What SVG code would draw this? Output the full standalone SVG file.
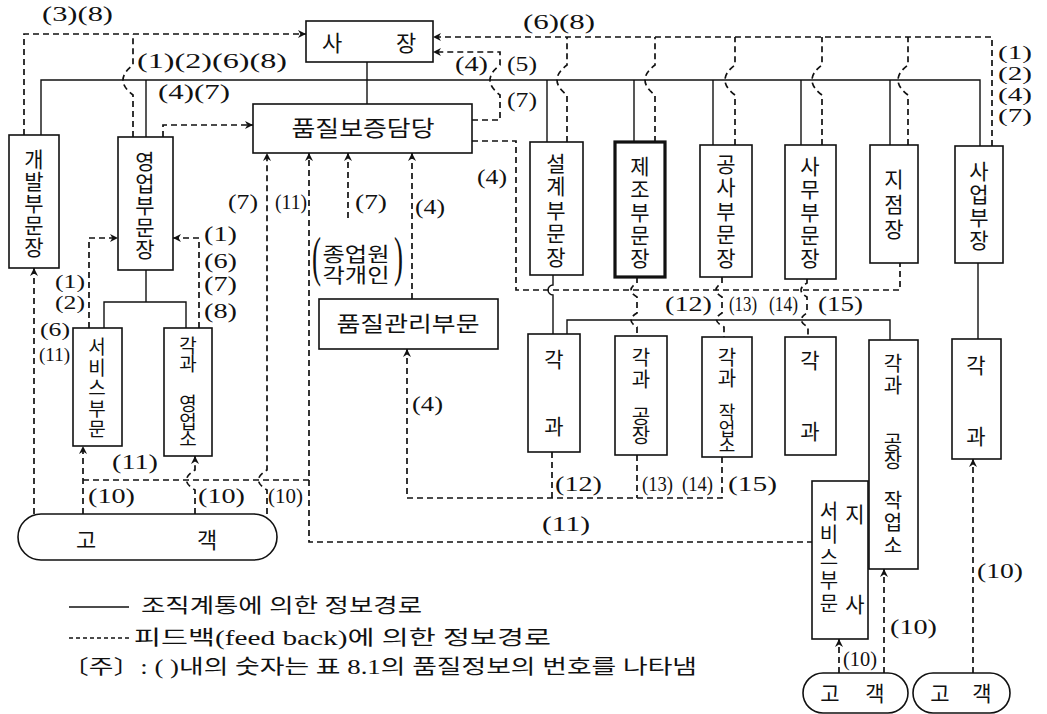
<svg xmlns="http://www.w3.org/2000/svg" width="1047" height="714" viewBox="0 0 1047 714">
<defs>
<style>
.box{fill:#fff;stroke:#111;stroke-width:1.6}
.thick{fill:#fff;stroke:#111;stroke-width:3.2}
.sol{fill:none;stroke:#111;stroke-width:1.4}
.dash{fill:none;stroke:#111;stroke-width:1.7;stroke-dasharray:6 4}
.arr{marker-end:url(#ah)}
.lbl{font-family:"Liberation Serif","Noto Sans CJK KR",serif;font-size:20px;fill:#111}
.sm{font-size:18px}
.ko{font-family:"Noto Sans CJK KR",sans-serif;font-size:22px;fill:#111;text-anchor:middle}
.ks{font-family:"Noto Sans CJK KR",sans-serif;font-size:20px;fill:#111;text-anchor:middle}
.vt{font-family:"Noto Sans CJK KR",sans-serif;font-size:21px;fill:#111;text-anchor:middle;writing-mode:vertical-rl}
.leg{font-family:"Liberation Serif","Noto Sans CJK KR",serif;font-size:20px;fill:#111}
</style>
<marker id="ah" viewBox="0 0 10 10" refX="10" refY="5" markerWidth="10" markerHeight="8" markerUnits="userSpaceOnUse" orient="auto">
<path d="M0,0 L10,5 L0,10 L3,5 Z" fill="#111"/>
</marker>
</defs>
<rect x="0" y="0" width="1047" height="714" fill="#fff"/>

<g id="connectors">
<g id="solid-lines">
<path class="sol" d="M367,62 V104"/>
<path class="sol" d="M41,135 V80 H980 V146"/>
<path class="sol" d="M146,80 V137"/>
<path class="sol" d="M547,80 V142"/>
<path class="sol" d="M634,80 V142"/>
<path class="sol" d="M713,80 V145"/>
<path class="sol" d="M801,80 V145"/>
<path class="sol" d="M890,80 V145"/>
<path class="sol" d="M146,270 V302"/>
<path class="sol" d="M104,328 V302 H186 V328"/>
<path class="sol" d="M553,275 V285 A5,5 0 0 0 553,295 V334"/>
<path class="sol" d="M567,334 V320 H890 V340"/>
<path class="sol" d="M978,263 V339"/>
</g>
<g id="feedback-lines">
<path class="dash arr" d="M24,135 V34 H306"/>
<path class="dash" d="M133,137 V95 Q113,80 133,65 V34"/>
<path class="dash arr" d="M163,137 V125 H253"/>
<path class="dash arr" d="M472,120 H500 V95 Q480,80 500,65 V52 H433"/>
<path class="dash arr" d="M992,146 V37 H433"/>
<path class="dash" d="M567,142 V95 Q547,80 567,65 V37"/>
<path class="dash" d="M655,142 V95 Q635,80 655,65 V37"/>
<path class="dash" d="M735,145 V95 Q715,80 735,65 V37"/>
<path class="dash" d="M822,145 V95 Q802,80 822,65 V37"/>
<path class="dash" d="M908,145 V95 Q888,80 908,65 V37"/>
<path class="dash" d="M472,141 H516 V290 H900 V263"/>
<path class="dash" d="M637,277 V283 Q625,290 637,297 V313 Q625,320 637,327 V336"/>
<path class="dash" d="M722,277 V283 Q710,290 722,297 V313 Q710,320 724,327 V337"/>
<path class="dash" d="M807,279 V283 Q795,290 807,297 V313 Q795,320 808,327 V337"/>
<path class="dash arr" d="M267,514 V490 Q250,480 267,470 V153"/>
<path class="dash arr" d="M813,542 H309 V153"/>
<path class="dash" d="M309,480 H83"/>
<path class="dash arr" d="M83,514 V446"/>
<path class="dash arr" d="M348,218 V153"/>
<path class="dash arr" d="M412,299 V153"/>
<path class="dash arr" d="M722,457 V498 H407 V349"/>
<path class="dash" d="M552,452 V498"/>
<path class="dash" d="M637,455 V498"/>
<path class="dash arr" d="M89,328 V238 H118"/>
<path class="dash arr" d="M199,328 V238 H173"/>
<path class="dash arr" d="M34,514 V268"/>
<path class="dash arr" d="M195,514 V490 Q178,480 195,470 V456"/>
<path class="dash arr" d="M839,673 V639"/>
<path class="dash arr" d="M884,673 V569"/>
<path class="dash arr" d="M973,673 V459"/>
</g>
<g id="connector-labels">
<text class="lbl" x="42" y="21" textLength="71" lengthAdjust="spacingAndGlyphs">(3)(8)</text>
<text class="lbl" x="137" y="68" textLength="150" lengthAdjust="spacingAndGlyphs">(1)(2)(6)(8)</text>
<text class="lbl" x="158" y="99" textLength="72" lengthAdjust="spacingAndGlyphs">(4)(7)</text>
<text class="lbl" x="523" y="29" textLength="72" lengthAdjust="spacingAndGlyphs">(6)(8)</text>
<text class="lbl" x="455" y="71" textLength="33" lengthAdjust="spacingAndGlyphs">(4)</text>
<text class="lbl" x="507" y="71" textLength="30" lengthAdjust="spacingAndGlyphs">(5)</text>
<text class="lbl" x="507" y="107" textLength="30" lengthAdjust="spacingAndGlyphs">(7)</text>
<text class="lbl sm" x="998" y="59" textLength="34" lengthAdjust="spacingAndGlyphs">(1)</text>
<text class="lbl sm" x="998" y="80" textLength="34" lengthAdjust="spacingAndGlyphs">(2)</text>
<text class="lbl sm" x="998" y="101" textLength="34" lengthAdjust="spacingAndGlyphs">(4)</text>
<text class="lbl sm" x="998" y="122" textLength="34" lengthAdjust="spacingAndGlyphs">(7)</text>
<text class="lbl" x="477" y="184" textLength="30" lengthAdjust="spacingAndGlyphs">(4)</text>
<text class="lbl" x="228" y="209" textLength="30" lengthAdjust="spacingAndGlyphs">(7)</text>
<text class="lbl" x="275" y="209" textLength="32" lengthAdjust="spacingAndGlyphs">(11)</text>
<text class="lbl" x="355" y="209" textLength="32" lengthAdjust="spacingAndGlyphs">(7)</text>
<text class="lbl" x="415" y="214" textLength="30" lengthAdjust="spacingAndGlyphs">(4)</text>
<text class="lbl sm" x="55" y="288" textLength="30" lengthAdjust="spacingAndGlyphs">(1)</text>
<text class="lbl sm" x="55" y="309" textLength="30" lengthAdjust="spacingAndGlyphs">(2)</text>
<text class="lbl sm" x="40" y="336" textLength="30" lengthAdjust="spacingAndGlyphs">(6)</text>
<text class="lbl sm" x="39" y="361" textLength="31" lengthAdjust="spacingAndGlyphs">(11)</text>
<text class="lbl" x="204" y="241" textLength="33" lengthAdjust="spacingAndGlyphs">(1)</text>
<text class="lbl" x="204" y="268" textLength="33" lengthAdjust="spacingAndGlyphs">(6)</text>
<text class="lbl" x="204" y="291" textLength="33" lengthAdjust="spacingAndGlyphs">(7)</text>
<text class="lbl" x="204" y="318" textLength="33" lengthAdjust="spacingAndGlyphs">(8)</text>
<text class="lbl" x="665" y="311" textLength="47" lengthAdjust="spacingAndGlyphs">(12)</text>
<text class="lbl" x="729" y="311" textLength="28" lengthAdjust="spacingAndGlyphs">(13)</text>
<text class="lbl" x="769" y="311" textLength="29" lengthAdjust="spacingAndGlyphs">(14)</text>
<text class="lbl" x="818" y="311" textLength="45" lengthAdjust="spacingAndGlyphs">(15)</text>
<text class="lbl" x="412" y="411" textLength="31" lengthAdjust="spacingAndGlyphs">(4)</text>
<text class="lbl" x="555" y="491" textLength="47" lengthAdjust="spacingAndGlyphs">(12)</text>
<text class="lbl" x="642" y="491" textLength="31" lengthAdjust="spacingAndGlyphs">(13)</text>
<text class="lbl" x="682" y="491" textLength="31" lengthAdjust="spacingAndGlyphs">(14)</text>
<text class="lbl" x="728" y="491" textLength="49" lengthAdjust="spacingAndGlyphs">(15)</text>
<text class="lbl" x="542" y="531" textLength="48" lengthAdjust="spacingAndGlyphs">(11)</text>
<text class="lbl" x="112" y="469" textLength="46" lengthAdjust="spacingAndGlyphs">(11)</text>
<text class="lbl" x="88" y="503" textLength="47" lengthAdjust="spacingAndGlyphs">(10)</text>
<text class="lbl" x="198" y="503" textLength="47" lengthAdjust="spacingAndGlyphs">(10)</text>
<text class="lbl" x="268" y="503" textLength="35" lengthAdjust="spacingAndGlyphs">(10)</text>
<text class="lbl" x="843" y="666" textLength="34" lengthAdjust="spacingAndGlyphs">(10)</text>
<text class="lbl" x="890" y="634" textLength="47" lengthAdjust="spacingAndGlyphs">(10)</text>
<text class="lbl" x="977" y="578" textLength="46" lengthAdjust="spacingAndGlyphs">(10)</text>
</g>
</g>

<g id="president">
<rect class="box" x="306" y="21" width="127" height="41"/>
<text class="ko"><tspan x="332" y="51">사</tspan><tspan x="406" y="51">장</tspan></text>
</g>
<g id="qa-manager">
<rect class="box" x="253" y="104" width="219" height="49"/>
<text class="ko" x="363" y="136" textLength="143" lengthAdjust="spacingAndGlyphs">품질보증담당</text>
</g>
<g id="dev-head">
<rect class="box" x="9" y="135" width="50" height="133"/>
<text class="vt" x="34" y="204" style="letter-spacing:1px">개발부문장</text>
</g>
<g id="sales-head">
<rect class="box" x="118" y="137" width="55" height="133"/>
<text class="vt" x="145" y="206" style="letter-spacing:1px">영업부문장</text>
</g>
<g id="service-dept">
<rect class="box" x="73" y="328" width="49" height="118"/>
<text class="vt" x="97" y="389" style="font-size:19px;letter-spacing:1.5px">서비스부문</text>
</g>
<g id="sales-offices">
<rect class="box" x="164" y="328" width="48" height="128"/>
<text class="vt" x="188" y="354" style="font-size:19px;letter-spacing:-1.5px">각과</text>
<text class="vt" x="188" y="421" style="font-size:19px;letter-spacing:-1.5px">영업소</text>
</g>
<g id="design-head">
<rect class="box" x="530" y="142" width="53" height="133"/>
<text class="vt" x="556" y="211" style="letter-spacing:2.5px">설계부문장</text>
</g>
<g id="mfg-head">
<rect class="thick" x="615" y="142" width="50" height="135"/>
<text class="vt" x="640" y="213" style="letter-spacing:2px">제조부문장</text>
</g>
<g id="construction-head">
<rect class="box" x="700" y="145" width="52" height="132"/>
<text class="vt" x="726" y="212" style="letter-spacing:2.5px">공사부문장</text>
</g>
<g id="office-head">
<rect class="box" x="785" y="145" width="51" height="134"/>
<text class="vt" x="810" y="213" style="letter-spacing:2px">사무부문장</text>
</g>
<g id="branch-head">
<rect class="box" x="870" y="145" width="48" height="118"/>
<text class="vt" x="894" y="206" style="letter-spacing:4px">지점장</text>
</g>
<g id="division-head">
<rect class="box" x="955" y="146" width="48" height="117"/>
<text class="vt" x="979" y="207" style="letter-spacing:2px">사업부장</text>
</g>
<g id="employees">
<text class="lbl" transform="translate(312,275) scale(0.5,1)" style="font-size:54px">(</text>
<text class="ks"><tspan x="356" y="262" textLength="67" lengthAdjust="spacingAndGlyphs">종업원</tspan><tspan x="356" y="283" textLength="67" lengthAdjust="spacingAndGlyphs">각개인</tspan></text>
<text class="lbl" transform="translate(394,275) scale(0.5,1)" style="font-size:54px">)</text>
</g>
<g id="qc-dept">
<rect class="box" x="319" y="299" width="179" height="50"/>
<text class="ko" style="font-size:21px" x="408" y="331" textLength="143" lengthAdjust="spacingAndGlyphs">품질관리부문</text>
</g>
<g id="design-sections">
<rect class="box" x="528" y="334" width="52" height="118"/>
<text class="ks" style="font-size:21px"><tspan x="554" y="367">각</tspan><tspan x="554" y="434">과</tspan></text>
</g>
<g id="mfg-plants">
<rect class="box" x="615" y="336" width="52" height="119"/>
<text class="vt" x="641" y="369" style="font-size:20px;letter-spacing:2px">각과</text>
<text class="vt" x="641" y="425" style="font-size:20px;letter-spacing:-1px">공장</text>
</g>
<g id="construction-sites">
<rect class="box" x="702" y="337" width="50" height="120"/>
<text class="vt" x="727" y="368" style="font-size:20px;letter-spacing:1px">각과</text>
<text class="vt" x="727" y="428" style="font-size:18px;letter-spacing:-1.5px">작업소</text>
</g>
<g id="office-sections">
<rect class="box" x="785" y="337" width="51" height="118"/>
<text class="ks" style="font-size:21px"><tspan x="810" y="368">각</tspan><tspan x="810" y="439">과</tspan></text>
</g>
<g id="branch-units">
<rect class="box" x="869" y="340" width="49" height="229"/>
<text class="vt" x="893" y="375" style="font-size:20px;letter-spacing:2px">각과</text>
<text class="vt" x="893" y="450" style="font-size:20px;letter-spacing:-2px">공장</text>
<text class="vt" x="893" y="524" style="font-size:20px;letter-spacing:2.5px">작업소</text>
</g>
<g id="division-sections">
<rect class="box" x="952" y="339" width="49" height="120"/>
<text class="ks" style="font-size:21px"><tspan x="976" y="373">각</tspan><tspan x="976" y="444">과</tspan></text>
</g>
<g id="branch-service">
<rect class="box" x="812" y="481" width="56" height="158"/>
<text class="vt" x="829" y="559" style="font-size:20px;letter-spacing:3px">서비스부문</text>
<text class="ks" style="font-size:21px"><tspan x="855" y="522">지</tspan><tspan x="855" y="612">사</tspan></text>
</g>
<g id="customer-left">
<rect class="box" x="18" y="514" width="259" height="46" rx="23" ry="23"/>
<text class="ko"><tspan x="86" y="548">고</tspan><tspan x="207" y="548">객</tspan></text>
</g>
<g id="customer-right1">
<rect class="box" x="803" y="673" width="105" height="40" rx="20" ry="20"/>
<text class="ks" style="font-size:21px"><tspan x="830" y="701">고</tspan><tspan x="875" y="701">객</tspan></text>
</g>
<g id="customer-right2">
<rect class="box" x="913" y="673" width="97" height="40" rx="20" ry="20"/>
<text class="ks" style="font-size:21px"><tspan x="940" y="701">고</tspan><tspan x="982" y="701">객</tspan></text>
</g>

<g id="legend">
<path class="sol" d="M69,607 H129"/>
<path class="dash" style="stroke-width:1.3;stroke-dasharray:4 3" d="M69,638 H129"/>
<text class="leg" x="141" y="613" textLength="281" lengthAdjust="spacingAndGlyphs">조직계통에 의한 정보경로</text>
<text class="leg" x="134" y="645" textLength="417" lengthAdjust="spacingAndGlyphs">피드백(feed back)에 의한 정보경로</text>
<text class="leg" x="62" y="674" textLength="635" lengthAdjust="spacingAndGlyphs">〔주〕: ( )내의 숫자는 표 8.1의 품질정보의 번호를 나타냄</text>
</g>
</svg>
